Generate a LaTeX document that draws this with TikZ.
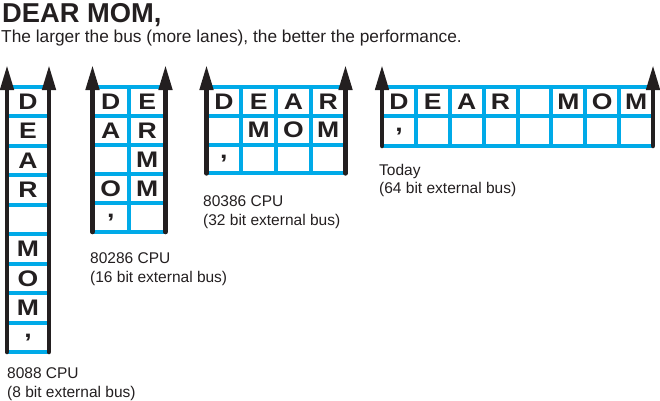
\documentclass[tikz,border=0pt]{standalone}
\usepackage{fontspec}
\setmainfont{Liberation Sans}
\newfontfamily\cellfont{Liberation Sans}[FakeStretch=1.18]
\usetikzlibrary{arrows.meta}
\definecolor{busblue}{RGB}{0,170,232}
\definecolor{ink}{RGB}{35,31,32}
\newcommand\commachar{,}
\begin{document}
\begin{tikzpicture}[x=1pt,y=-1pt,
  lane/.style={busblue,line width=4pt},
  rail/.style={ink,line width=4.5pt,line cap=round,-{Triangle[length=25pt,width=13pt]}},
  letter/.style={font=\cellfont\bfseries\fontsize{22.5}{22}\selectfont,text=ink,inner sep=0pt},
  caption/.style={font=\fontsize{15.5}{18}\selectfont,anchor=base west,inner sep=0pt,text=ink}]
\useasboundingbox (0,0) rectangle (660,400);

% title
\node[anchor=base west,inner sep=0pt,text=ink,font=\bfseries\fontsize{27.3}{30}\selectfont] (title) at (2,22) {DEAR MOM,};
\node[caption,font=\fontsize{17.3}{20}\selectfont] (sub) at (1,42) {The larger the bus (more lanes), the better the performance.};

% ---------- 8088 ----------
\foreach \i in {0,...,9} \draw[lane] (7,{87+\i*29.44}) -- (49,{87+\i*29.44});
\foreach \r/\t in {0/D,1/E,2/A,3/R,5/M,6/O,7/M,8/\commachar}
  \node[letter] (a\r) at (28,{87+(\r+0.5)*29.44}) {\t};
\coordinate (a-bl) at (7,352); \coordinate (a-tl) at (7,65);
\coordinate (a-br) at (49,352); \coordinate (a-tr) at (49,65);
\draw[rail] (a-bl) -- (a-tl);
\draw[rail] (a-br) -- (a-tr);
\node[caption] (a-cap1) at (7,378) {8088 CPU};
\node[caption] (a-cap2) at (7,397) {(8 bit external bus)};

% ---------- 80286 ----------
\foreach \i in {0,...,5} \draw[lane] (92.5,{87+\i*29}) -- (165.5,{87+\i*29});
\draw[lane] (129,87) -- (129,232);
\foreach \c/\r/\t in {0/0/D,1/0/E,0/1/A,1/1/R,1/2/M,0/3/O,1/3/M,0/4/\commachar}
  \node[letter] (b\c\r) at ({92.5+(\c+0.5)*36.5},{87+(\r+0.5)*29}) {\t};
\coordinate (b-bl) at (92.5,232); \coordinate (b-tl) at (92.5,65);
\coordinate (b-br) at (165.5,232); \coordinate (b-tr) at (165.5,65);
\draw[rail] (b-bl) -- (b-tl);
\draw[rail] (b-br) -- (b-tr);
\node[caption] (b-cap1) at (90,263) {80286 CPU};
\node[caption] (b-cap2) at (90,282) {(16 bit external bus)};

% ---------- 80386 ----------
\foreach \i in {0,...,3} \draw[lane] (206.5,{87+\i*28.8}) -- (345.5,{87+\i*28.8});
\foreach \i in {1,2,3} \draw[lane] ({206.5+\i*34.75},87) -- ({206.5+\i*34.75},173.4);
\foreach \c/\r/\t in {0/0/D,1/0/E,2/0/A,3/0/R,1/1/M,2/1/O,3/1/M,0/2/\commachar}
  \node[letter] (c\c\r) at ({206.5+(\c+0.5)*34.75},{87+(\r+0.5)*28.8}) {\t};
\coordinate (c-bl) at (206.5,173.4); \coordinate (c-tl) at (206.5,65);
\coordinate (c-br) at (345.5,173.4); \coordinate (c-tr) at (345.5,65);
\draw[rail] (c-bl) -- (c-tl);
\draw[rail] (c-br) -- (c-tr);
\node[caption] (c-cap1) at (203,206.5) {80386 CPU};
\node[caption] (c-cap2) at (203,225) {(32 bit external bus)};

% ---------- Today ----------
\foreach \i in {0,1,2} \draw[lane] (382,{86.5+\i*29.75}) -- (653,{86.5+\i*29.75});
\foreach \i in {1,...,7} \draw[lane] ({382+\i*33.875},86.5) -- ({382+\i*33.875},146);
\foreach \c/\r/\t in {0/0/D,1/0/E,2/0/A,3/0/R,5/0/M,6/0/O,7/0/M,0/1/\commachar}
  \node[letter] (d\c\r) at ({382+(\c+0.5)*33.875},{86.5+(\r+0.5)*29.75}) {\t};
\coordinate (d-bl) at (382,146); \coordinate (d-tl) at (382,65);
\coordinate (d-br) at (653,146); \coordinate (d-tr) at (653,65);
\draw[rail] (d-bl) -- (d-tl);
\draw[rail] (d-br) -- (d-tr);
\node[caption] (d-cap1) at (379,175) {Today};
\node[caption] (d-cap2) at (379,193) {(64 bit external bus)};
\end{tikzpicture}
\end{document}
